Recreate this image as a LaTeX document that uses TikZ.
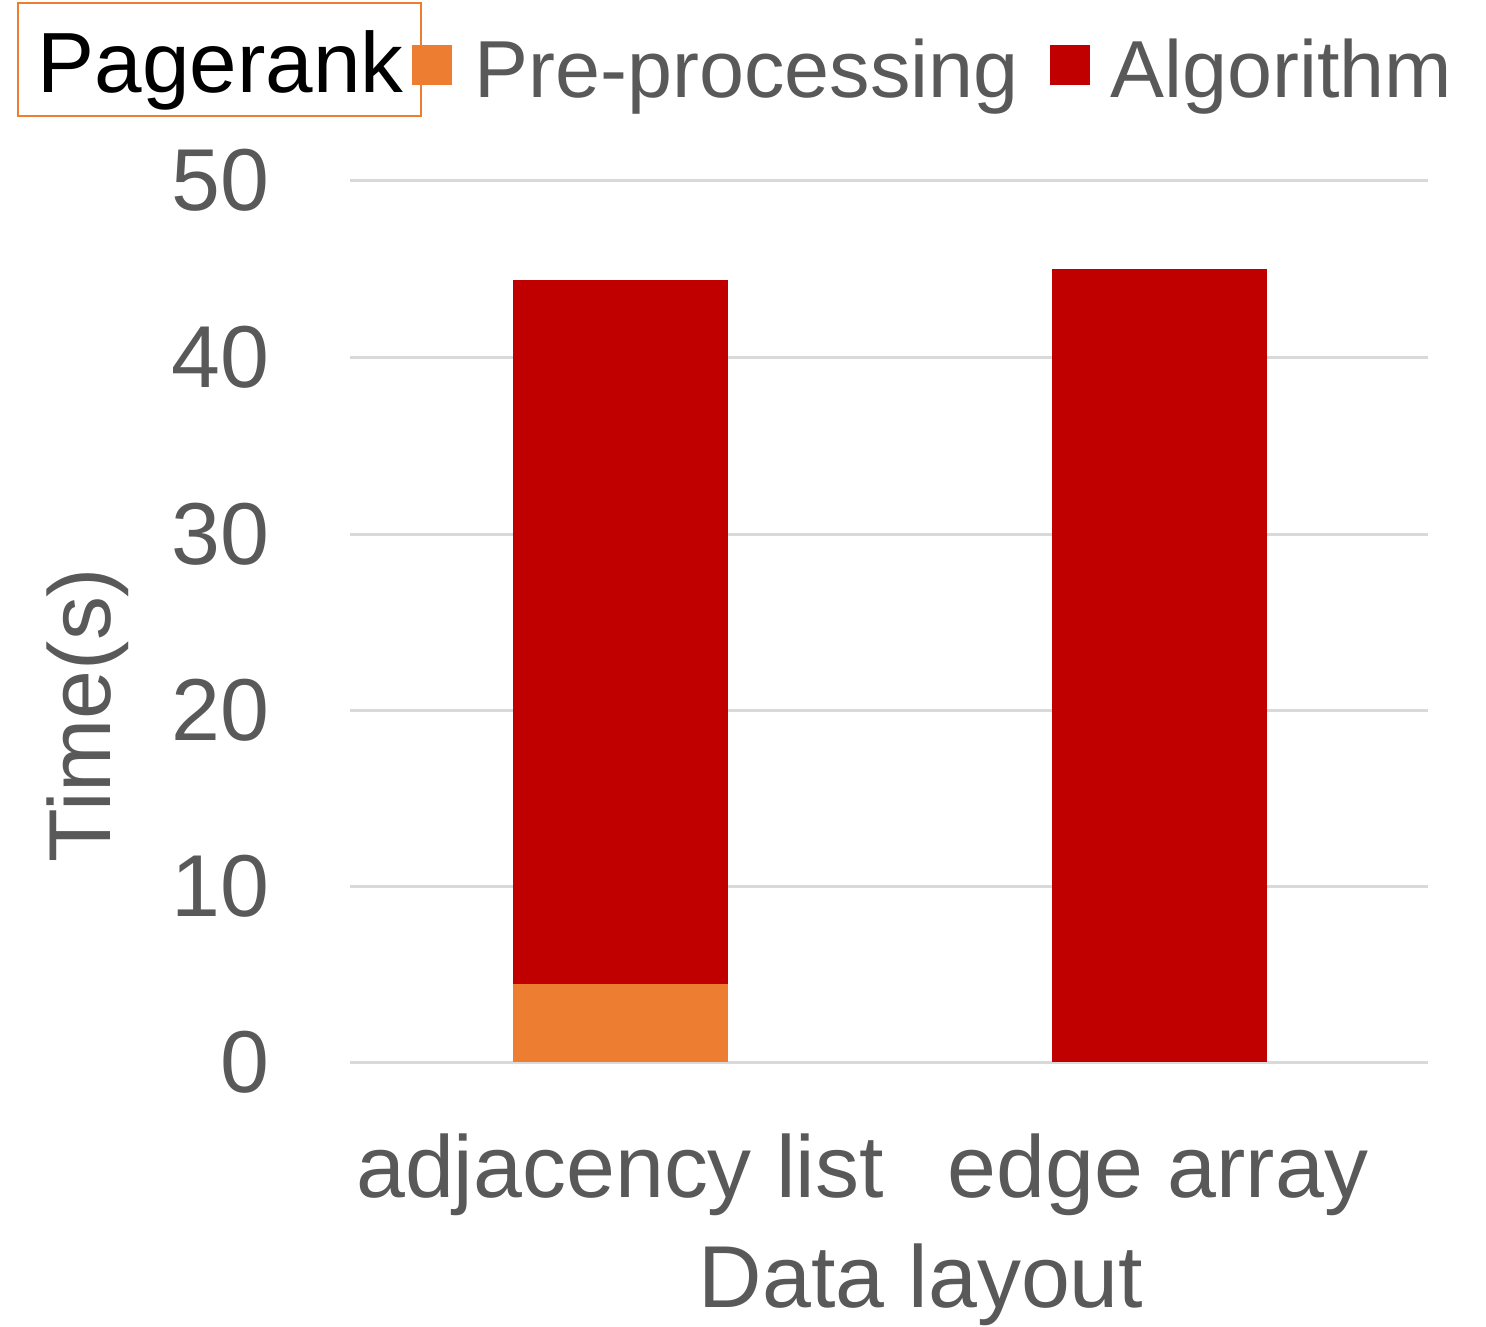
\documentclass[tikz,border=0pt]{standalone}
\usepackage{fontspec}
\setmainfont{Liberation Sans}
\usetikzlibrary{positioning}
\definecolor{preorange}{RGB}{237,125,49}
\definecolor{algred}{RGB}{192,0,0}
\definecolor{labelgray}{RGB}{89,89,89}
\definecolor{gridgray}{RGB}{217,217,217}
\tikzset{
  gridline/.style={draw=gridgray, line width=0.03cm},
  ticklbl/.style={anchor=east, inner sep=0pt, text=labelgray,
                  font=\fontsize{25}{30}\selectfont},
  catlbl/.style={anchor=base, inner sep=0pt, text=labelgray,
                 font=\fontsize{25}{30}\selectfont},
  leglbl/.style={anchor=base west, inner sep=0pt, text=labelgray,
                 font=\fontsize{23}{28}\selectfont},
  legkey/.style={minimum size=0.4cm, inner sep=0pt},
  titlebox/.style={draw=preorange, line width=0.02cm, minimum width=4.03cm,
                   minimum height=1.13cm, inner sep=0pt}
}
\begin{document}
\begin{tikzpicture}[x=0.01cm, y=-0.01cm]
    \useasboundingbox (0,0) rectangle (1486,1326);
    % grid and y ticks
    \foreach \v/\yy in {0/1062,10/886,20/710,30/534,40/357,50/180} {
      \draw[gridline] (350,\yy) -- (1428,\yy);
      \node[ticklbl] (tick\v) at (270,\yy) {\v};
    }
    % bars
    \fill[preorange] (513,984) rectangle (728,1062);
    \fill[algred] (513,280) rectangle (728,984);
    \fill[algred] (1052,269) rectangle (1267,1062);
    % axis labels
    \node[catlbl] (adj) at (620,1197) {adjacency list};
    \node[catlbl] (edge) at (1158,1197) {edge array};
    \node[catlbl] (xtitle) at (921,1307) {Data layout};
    \node[catlbl, rotate=90] (ytitle) at (110,715) {Time(s)};
    % legend
    \node[titlebox] (title) at (219.5,59.5) {};
    \node[anchor=base west, inner sep=0pt, font=\fontsize{24.3}{29}\selectfont]
      (titletext) at (37,92) {Pagerank};
    \node[legkey, fill=preorange] (keypre) at (432,65) {};
    \node[leglbl] (pre) at (474,97) {Pre-processing};
    \node[legkey, fill=algred] (keyalg) at (1070,65) {};
    \node[leglbl] (alg) at (1110,97) {Algorithm};
  \end{tikzpicture}
\end{document}
